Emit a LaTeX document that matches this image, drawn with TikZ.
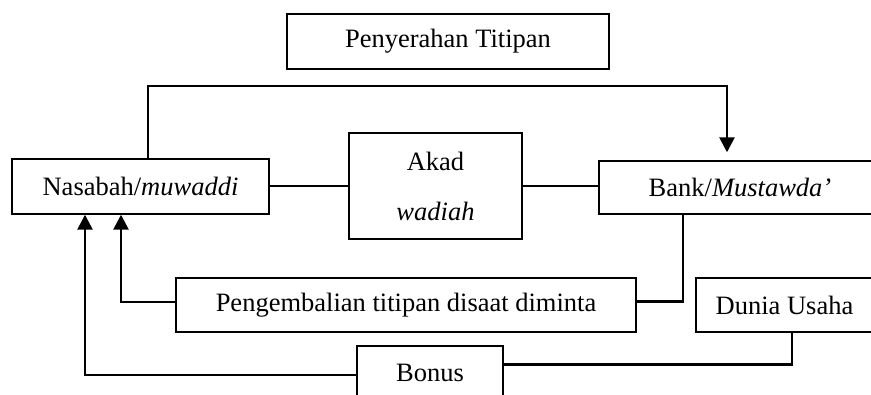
\documentclass[tikz,border=0pt]{standalone}
\usepackage{fontspec}
\setmainfont{Liberation Serif}
\usetikzlibrary{arrows.meta}

\begin{document}
\begin{tikzpicture}[x=1pt,y=-1pt,
  box/.style={draw, line width=1.4pt, inner sep=0pt, align=center,
    font=\fontsize{26.5}{50}\selectfont},
  conn/.style={line width=2.6pt},
  tip/.style={-{Triangle[length=15pt,width=15pt]}}]
  \useasboundingbox (0,0) rectangle (871,394);
  \clip (0,0) rectangle (871,394);

  % boxes
  \node[box, minimum width=322pt, minimum height=55pt] (pen)   at (448,41.5)  {Penyerahan Titipan};
  \node[box, minimum width=257pt, minimum height=55pt] (nas)   at (140.5,186.5) {Nasabah/\textit{muwaddi}};
  \node[box, minimum width=173pt, minimum height=106pt] (akad) at (435.5,186) {Akad\\\textit{wadiah}};
  \node[box, minimum width=282pt, minimum height=53pt] (bank)  at (740,187.5) {Bank/\textit{Mustawda’}};
  \node[box, minimum width=460pt, minimum height=54pt] (peng)  at (406,305)  {Pengembalian titipan disaat diminta};
  \node[box, minimum width=177pt, minimum height=54pt] (dunia) at (784.5,305) {Dunia Usaha};
  \node[box, minimum width=146pt, minimum height=54pt] (bonus) at (430,373)  {Bonus};

  % bend points of the connectors
  \coordinate (t1) at (148,86);
  \coordinate (t2) at (727,86);
  \coordinate (r1) at (683,301.5);
  \coordinate (l1) at (121,302);
  \coordinate (d1) at (792,364.5);
  \coordinate (b1) at (85,375);

  % deposit handed over to the bank
  \draw[conn, tip, shorten >=8pt] (nas.north -| t1) -- (t1) -- (t2) -- (bank.north -| t2);

  % contract line
  \draw[conn] (nas.east |- akad.west) -- (akad.west);
  \draw[conn] (akad.east) -- (bank.west |- akad.east);

  % return of the deposit
  \draw[conn] (bank.south -| r1) -- (r1) -- (peng.east |- r1);
  \draw[conn, tip] (peng.west |- l1) -- (l1) -- (nas.south -| l1);

  % bonus from the business world
  \draw[conn] (dunia.south -| d1) -- (d1) -- (bonus.east |- d1);
  \draw[conn, tip] (bonus.west |- b1) -- (b1) -- (nas.south -| b1);
\end{tikzpicture}
\end{document}
